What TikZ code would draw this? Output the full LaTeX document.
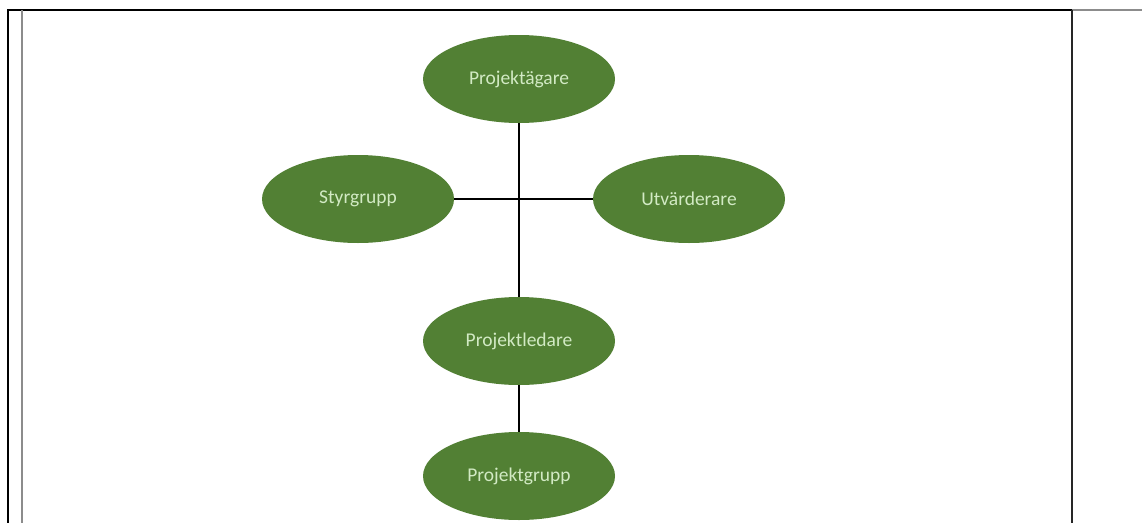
\documentclass[tikz,border=0pt]{standalone}
\usepackage{fontspec}
\setmainfont{Carlito}
\usetikzlibrary{shapes.geometric}
\definecolor{leaf}{RGB}{82,128,52}
\definecolor{leaftext}{RGB}{210,234,196}
\tikzset{
  role/.style={ellipse, fill=leaf, draw=none, minimum width=192pt, minimum height=88pt,
    inner sep=0pt, text=leaftext, font=\fontsize{19.5}{23}\selectfont},
  link/.style={draw=black, line width=2pt},
  frameblack/.style={draw=black, line width=2pt},
  framegray/.style={draw=gray!90, line width=1.3pt}
}
\begin{document}
\begin{tikzpicture}[x=1pt,y=-1pt]
\useasboundingbox (0,0) rectangle (1142,522);
\fill[white] (0,0) rectangle (1142,522);
% frame
\draw[frameblack] (8,523) -- (8,10) -- (1072,10);
\draw[framegray] (22,10) -- (22,523);
\draw[framegray] (1072,10) -- (1142,10);
\draw[draw=black!85, line width=2.2pt] (1072,10) -- (1072,523);
% nodes
\node[role] (pa) at (519,79) {Projektägare};
\node[role] (sg) at (358,199) {Styrgrupp};
\node[role] (ut) at (689,199) {Utvärderare};
\node[role] (pl) at (519,341) {Projektledare};
\node[role] (pg) at (519,476) {Projektgrupp};
% connectors
\draw[link] (pa) -- (pl);
\draw[link] (sg) -- (ut);
\draw[link] (pl) -- (pg);
\end{tikzpicture}
\end{document}
